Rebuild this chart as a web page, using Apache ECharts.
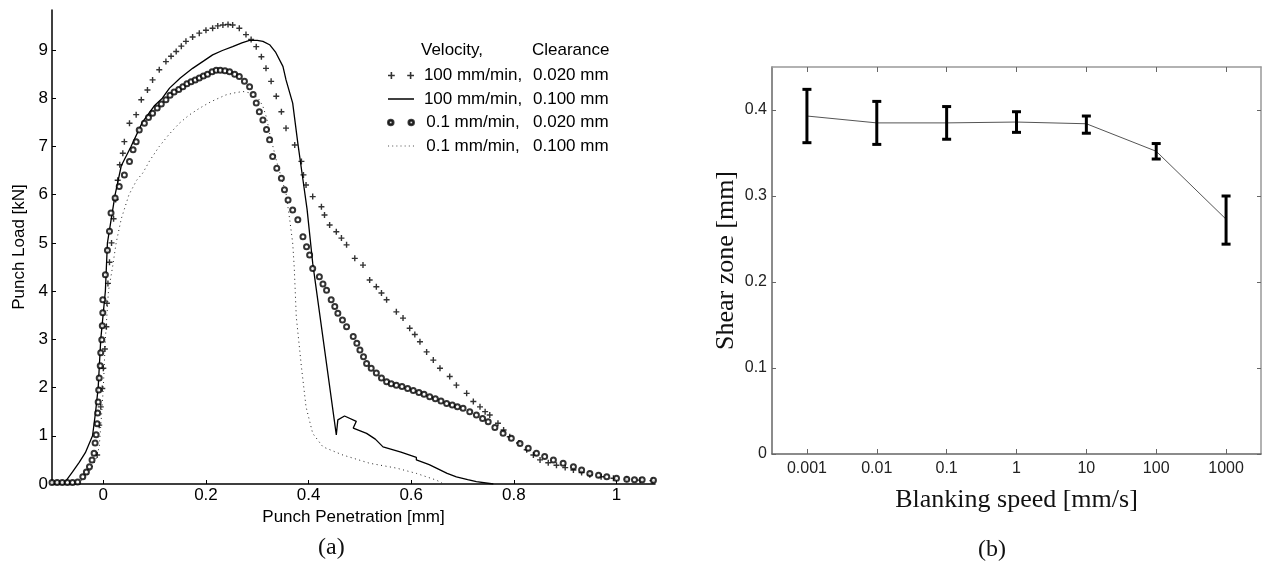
<!DOCTYPE html>
<html>
<head>
<meta charset="utf-8">
<script src="https://cdn.jsdelivr.net/npm/echarts@6/dist/echarts.min.js"></script>
<style>html,body{margin:0;padding:0;background:#fff}#c{width:1262px;height:572px}</style>
</head>
<body>
<div id="c"></div>
<script>
// ---------- Panel (a): punch load vs penetration ----------
const seriesNames = ['100 mm/min, 0.020 mm', '100 mm/min, 0.100 mm', '0.1 mm/min, 0.020 mm', '0.1 mm/min, 0.100 mm'];
const xTicksA = [0, 0.2, 0.4, 0.6, 0.8, 1];
const yTicksA = [0, 1, 2, 3, 4, 5, 6, 7, 8, 9];

// "+" markers : 100 mm/min, 0.020 mm
const plus100_020 = [[-0.012,0.6],[-0.008,1.22],[-0.005,1.6],[-0.002,1.98],[0.0,2.4],[0.003,2.8],[0.006,3.26],[0.007,3.75],[0.009,4.16],[0.012,4.6],[0.016,5.0],[0.02,5.5],[0.024,5.9],[0.028,6.3],[0.032,6.62],[0.038,6.86],[0.041,7.1],[0.051,7.48],[0.064,7.66],[0.074,7.97],[0.086,8.17],[0.096,8.38],[0.109,8.59],[0.122,8.76],[0.132,8.87],[0.142,8.97],[0.152,9.08],[0.161,9.18],[0.174,9.27],[0.187,9.35],[0.2,9.41],[0.213,9.45],[0.223,9.5],[0.233,9.52],[0.243,9.53],[0.252,9.52],[0.265,9.45],[0.278,9.32],[0.288,9.22],[0.298,9.07],[0.308,8.86],[0.317,8.62],[0.327,8.35],[0.337,8.04],[0.347,7.72],[0.356,7.38],[0.373,7.03],[0.386,6.69],[0.39,6.41],[0.395,6.2],[0.408,5.96],[0.425,5.75],[0.431,5.58],[0.441,5.37],[0.454,5.23],[0.464,5.1],[0.474,4.96],[0.49,4.68],[0.506,4.54],[0.519,4.23],[0.532,4.09],[0.542,3.96],[0.552,3.82],[0.571,3.57],[0.584,3.44],[0.597,3.23],[0.607,3.1],[0.617,2.95],[0.63,2.74],[0.643,2.57],[0.656,2.4],[0.675,2.23],[0.688,2.05],[0.708,1.88],[0.721,1.71],[0.734,1.6],[0.744,1.5],[0.753,1.43],[0.769,1.26],[0.78,1.12],[0.792,0.98],[0.81,0.85],[0.825,0.71],[0.838,0.6],[0.851,0.5],[0.867,0.44],[0.883,0.39],[0.9,0.34],[0.916,0.29],[0.932,0.24],[0.948,0.19],[0.97,0.15],[0.994,0.12],[1.02,0.1],[1.046,0.08],[1.07,0.07]];

// solid line : 100 mm/min, 0.100 mm
const line100_100 = [[-0.1,0.02],[-0.076,0.02],[-0.06,0.25],[-0.047,0.45],[-0.035,0.65],[-0.027,0.85],[-0.021,1.0],[-0.015,1.5],[-0.01,2.0],[-0.005,3.0],[0.004,4.0],[0.008,5.0],[0.023,6.0],[0.035,6.6],[0.054,7.0],[0.076,7.5],[0.1,7.85],[0.115,8.0],[0.129,8.21],[0.15,8.42],[0.174,8.62],[0.195,8.77],[0.213,8.9],[0.232,8.99],[0.252,9.07],[0.27,9.15],[0.285,9.2],[0.3,9.2],[0.311,9.18],[0.324,9.11],[0.336,8.95],[0.35,8.66],[0.356,8.38],[0.369,7.9],[0.379,7.07],[0.389,6.31],[0.397,5.7],[0.408,4.58],[0.454,1.02],[0.457,1.33],[0.47,1.41],[0.493,1.3],[0.487,1.16],[0.513,1.05],[0.53,0.93],[0.545,0.77],[0.58,0.66],[0.61,0.55],[0.61,0.5],[0.635,0.4],[0.649,0.33],[0.67,0.22],[0.688,0.15],[0.71,0.09],[0.727,0.05],[0.76,0.0]];

// circles : 0.1 mm/min, 0.020 mm
const circ01_020 = [[-0.1,0.03],[-0.09,0.03],[-0.08,0.03],[-0.07,0.03],[-0.06,0.03],[-0.05,0.04],[-0.04,0.15],[-0.033,0.25],[-0.027,0.36],[-0.022,0.5],[-0.018,0.64],[-0.016,0.85],[-0.014,1.02],[-0.012,1.25],[-0.011,1.47],[-0.01,1.7],[-0.009,1.95],[-0.008,2.2],[-0.006,2.45],[-0.005,2.72],[-0.003,2.99],[-0.002,3.28],[-0.001,3.55],[-0.001,3.82],[0.004,4.34],[0.008,4.85],[0.012,5.24],[0.015,5.62],[0.023,5.93],[0.031,6.17],[0.041,6.41],[0.051,6.69],[0.058,6.93],[0.064,7.1],[0.07,7.34],[0.08,7.48],[0.088,7.6],[0.096,7.69],[0.105,7.8],[0.113,7.88],[0.122,7.97],[0.13,8.06],[0.138,8.13],[0.147,8.18],[0.155,8.24],[0.163,8.3],[0.171,8.34],[0.179,8.38],[0.187,8.42],[0.195,8.46],[0.203,8.5],[0.212,8.55],[0.22,8.58],[0.228,8.58],[0.237,8.57],[0.246,8.55],[0.256,8.5],[0.265,8.45],[0.275,8.35],[0.285,8.24],[0.292,8.08],[0.298,7.9],[0.304,7.72],[0.311,7.55],[0.318,7.35],[0.324,7.14],[0.33,6.79],[0.338,6.55],[0.347,6.34],[0.353,6.1],[0.36,5.89],[0.369,5.68],[0.379,5.48],[0.389,5.13],[0.396,4.92],[0.402,4.75],[0.408,4.47],[0.421,4.3],[0.428,4.15],[0.435,4.02],[0.444,3.82],[0.451,3.68],[0.457,3.54],[0.466,3.4],[0.474,3.26],[0.487,3.06],[0.494,2.92],[0.5,2.78],[0.507,2.64],[0.513,2.5],[0.522,2.4],[0.532,2.3],[0.542,2.2],[0.552,2.12],[0.561,2.08],[0.571,2.05],[0.582,2.02],[0.593,1.98],[0.604,1.94],[0.615,1.9],[0.625,1.86],[0.636,1.81],[0.647,1.77],[0.658,1.72],[0.669,1.67],[0.68,1.64],[0.69,1.6],[0.701,1.57],[0.714,1.5],[0.727,1.43],[0.739,1.36],[0.75,1.29],[0.763,1.17],[0.779,1.05],[0.795,0.95],[0.812,0.84],[0.828,0.74],[0.844,0.64],[0.86,0.57],[0.877,0.5],[0.896,0.43],[0.916,0.36],[0.932,0.29],[0.948,0.22],[0.965,0.18],[0.981,0.15],[1.0,0.12],[1.02,0.1],[1.035,0.09],[1.05,0.09],[1.072,0.08]];

// dotted line : 0.1 mm/min, 0.100 mm
const dot01_100 = [[-0.05,0.0],[-0.03,0.2],[-0.015,0.5],[-0.008,0.77],[-0.003,1.5],[0.0,2.0],[0.004,3.0],[0.01,4.0],[0.018,4.5],[0.025,5.0],[0.035,5.5],[0.05,6.0],[0.065,6.3],[0.077,6.45],[0.09,6.7],[0.109,7.0],[0.128,7.25],[0.148,7.48],[0.167,7.65],[0.187,7.79],[0.21,7.93],[0.239,8.07],[0.255,8.11],[0.272,8.14],[0.291,8.1],[0.302,8.0],[0.311,7.83],[0.318,7.6],[0.324,7.28],[0.337,6.72],[0.347,6.35],[0.356,6.03],[0.363,5.5],[0.369,5.0],[0.372,4.5],[0.376,3.47],[0.386,2.43],[0.395,1.6],[0.408,1.05],[0.428,0.77],[0.467,0.6],[0.519,0.43],[0.571,0.33],[0.61,0.22],[0.649,0.08],[0.66,0.02]];

// ---------- Panel (b): shear zone vs blanking speed ----------
const speeds = ['0.001', '0.01', '0.1', '1', '10', '100', '1000'];
const shearMean = [0.393, 0.385, 0.385, 0.386, 0.384, 0.352, 0.273];
const shearLow  = [0.362, 0.360, 0.366, 0.374, 0.373, 0.343, 0.244];
const shearHigh = [0.424, 0.410, 0.404, 0.398, 0.393, 0.361, 0.300];
const yTicksB = [0, 0.1, 0.2, 0.3, 0.4];

const SANS = '"Liberation Sans", Arial, sans-serif';
const SERIF = '"Liberation Serif", "Times New Roman", serif';

const plusPath = 'M-0.7,-3H0.7V-0.7H3V0.7H0.7V3H-0.7V0.7H-3V-0.7H-0.7Z';
const plusIcon = 'path://M2.3,-3H3.7V-0.7H6V0.7H3.7V3H2.3V0.7H0V-0.7H2.3Z M19.3,-3H20.7V-0.7H23V0.7H20.7V3H19.3V0.7H17V-0.7H19.3Z';
const ringIcon = 'path://M1,0A2.3,2.3 0 1 0 5.6,0A2.3,2.3 0 1 0 1,0Z M1.9,0A1.4,1.4 0 1 1 4.7,0A1.4,1.4 0 1 1 1.9,0Z M18,0A2.3,2.3 0 1 0 22.6,0A2.3,2.3 0 1 0 18,0Z M18.9,0A1.4,1.4 0 1 1 21.7,0A1.4,1.4 0 1 1 18.9,0Z';
const solidIcon = 'path://M0,-0.75H26V0.75H0Z';
const dotIcon = 'path://M0,-0.5h1v1h-1Z M4,-0.5h1v1h-1Z M8,-0.5h1v1h-1Z M12,-0.5h1v1h-1Z M16,-0.5h1v1h-1Z M20,-0.5h1v1h-1Z M24,-0.5h1v1h-1Z';

const chart = echarts.init(document.getElementById('c'), null, {renderer: 'canvas'});

const thinAxis = (color, w) => ({ show: true, onZero: false, lineStyle: { color: color, width: w } });

chart.setOption({
  animation: false,
  backgroundColor: '#fff',
  title: {
    left: 416, top: 37,
    text: '{a|Velocity,}{b|Clearance}',
    textStyle: {
      fontSize: 17, fontFamily: SANS, fontWeight: 'normal', color: '#000',
      rich: { a: { width: 111, fontSize: 17, fontFamily: SANS, color: '#000' }, b: { fontSize: 17, fontFamily: SANS, color: '#000' } }
    }
  },
  legend: {
    left: 382, top: 62, orient: 'vertical', itemWidth: 26, itemHeight: 7, itemGap: 6.5,
    selectedMode: false,
    data: [
      { name: seriesNames[0], icon: plusIcon },
      { name: seriesNames[1], icon: solidIcon, itemStyle: { color: '#000' } },
      { name: seriesNames[2], icon: ringIcon },
      { name: seriesNames[3], icon: dotIcon, itemStyle: { color: '#555' } }
    ],
    formatter: function (name) {
      const p = name.split(', ');
      return '{a|' + p[0] + ',}{b|' + p[1] + '}';
    },
    textStyle: {
      fontSize: 17, fontFamily: SANS, color: '#000',
      rich: {
        a: { width: 108, align: 'right', fontSize: 17, fontFamily: SANS, color: '#000', lineHeight: 18 },
        b: { padding: [0, 0, 0, 6], fontSize: 17, fontFamily: SANS, color: '#000', lineHeight: 18 }
      }
    }
  },
  grid: [
    { left: 52, top: 10, width: 603, height: 474 },
    { left: 772, top: 67, right: 1, bottom: 118 }
  ],
  xAxis: [
    {
      gridIndex: 0, type: 'value', min: -0.1, max: 1.075,
      name: 'Punch Penetration [mm]', nameLocation: 'middle', nameGap: 22,
      nameTextStyle: { fontSize: 17, fontFamily: SANS, color: '#000' },
      axisLine: thinAxis('#000', 1.5),
      axisTick: { show: true, inside: true, length: 4, customValues: xTicksA, lineStyle: { color: '#000', width: 1 } },
      axisLabel: { customValues: xTicksA, fontSize: 17, fontFamily: SANS, color: '#000', margin: 3,
        formatter: v => String(Math.round(v * 10) / 10) },
      splitLine: { show: false }
    },
    {
      gridIndex: 1, type: 'category', data: speeds, boundaryGap: true, position: 'bottom',
      name: 'Blanking speed [mm/s]', nameLocation: 'middle', nameGap: 33,
      nameTextStyle: { fontSize: 26, fontFamily: SERIF, color: '#111' },
      axisLine: thinAxis('#666', 1.5),
      axisTick: { show: true, inside: true, alignWithLabel: true, length: 5, lineStyle: { color: '#666' } },
      axisLabel: { fontSize: 16, fontFamily: SANS, color: '#222', margin: 7 },
      splitLine: { show: false }
    },
    {
      gridIndex: 1, type: 'category', data: speeds, boundaryGap: true, position: 'top',
      axisLine: thinAxis('#999', 1.5),
      axisTick: { show: true, inside: true, alignWithLabel: true, length: 5, lineStyle: { color: '#666' } },
      axisLabel: { show: false },
      splitLine: { show: false }
    }
  ],
  yAxis: [
    {
      gridIndex: 0, type: 'value', min: 0, max: 9.83,
      name: 'Punch Load [kN]', nameLocation: 'middle', nameGap: 24,
      nameTextStyle: { fontSize: 17, fontFamily: SANS, color: '#000' },
      axisLine: thinAxis('#000', 1.5),
      axisTick: { show: true, inside: true, length: 4, customValues: yTicksA, lineStyle: { color: '#000' } },
      axisLabel: { customValues: yTicksA, fontSize: 17, fontFamily: SANS, color: '#000', margin: 4 },
      splitLine: { show: false }
    },
    {
      gridIndex: 1, type: 'value', min: 0, max: 0.45, position: 'left',
      name: 'Shear zone [mm]', nameLocation: 'middle', nameGap: 33,
      nameTextStyle: { fontSize: 26, fontFamily: SERIF, color: '#111' },
      axisLine: thinAxis('#666', 1.5),
      axisTick: { show: true, inside: true, length: 4, customValues: yTicksB, lineStyle: { color: '#666' } },
      axisLabel: { customValues: yTicksB, fontSize: 16, fontFamily: SANS, color: '#222', margin: 5,
        formatter: v => String(Math.round(v * 10) / 10) },
      splitLine: { show: false }
    },
    {
      gridIndex: 1, type: 'value', min: 0, max: 0.45, position: 'right',
      axisLine: thinAxis('#999', 1.5),
      axisTick: { show: true, inside: true, length: 4, customValues: yTicksB, lineStyle: { color: '#666' } },
      axisLabel: { show: false },
      splitLine: { show: false }
    }
  ],
  graphic: [
    { type: 'text', left: 318, top: 536, style: { text: '(a)', font: '24px ' + SERIF, fill: '#111' } },
    { type: 'text', left: 978, top: 538, style: { text: '(b)', font: '24px ' + SERIF, fill: '#111' } }
  ],
  series: [
    {
      name: seriesNames[0], type: 'scatter', xAxisIndex: 0, yAxisIndex: 0,
      data: plus100_020, symbol: 'path://' + plusPath, symbolSize: 6,
      itemStyle: { color: '#000' }, z: 3
    },
    {
      name: seriesNames[1], type: 'line', xAxisIndex: 0, yAxisIndex: 0,
      data: line100_100, showSymbol: false, symbol: 'none',
      lineStyle: { color: '#000', width: 1.3 }, itemStyle: { color: '#000' }, z: 2
    },
    {
      name: seriesNames[2], type: 'scatter', xAxisIndex: 0, yAxisIndex: 0,
      data: circ01_020, symbol: 'emptyCircle', symbolSize: 5,
      itemStyle: { color: '#000', borderColor: '#111', borderWidth: 0.9 }, z: 3
    },
    {
      name: seriesNames[3], type: 'line', xAxisIndex: 0, yAxisIndex: 0,
      data: dot01_100, showSymbol: false, symbol: 'none',
      lineStyle: { color: '#222', width: 1, type: [1, 3.5] }, itemStyle: { color: '#000' }, z: 2
    },
    {
      name: 'mean', type: 'line', xAxisIndex: 1, yAxisIndex: 1,
      data: shearMean, showSymbol: false, symbol: 'none',
      lineStyle: { color: '#555', width: 1 }, z: 2
    },
    {
      name: 'range', type: 'custom', xAxisIndex: 1, yAxisIndex: 1, z: 3,
      data: speeds.map((s, i) => [i, shearLow[i], shearHigh[i]]),
      renderItem: function (params, api) {
        const i = api.value(0);
        const lo = api.coord([i, api.value(1)]);
        const hi = api.coord([i, api.value(2)]);
        const hw = 4.5;
        const st = { stroke: '#000', lineWidth: 3 };
        return {
          type: 'group',
          children: [
            { type: 'line', shape: { x1: lo[0], y1: lo[1], x2: hi[0], y2: hi[1] }, style: st },
            { type: 'line', shape: { x1: lo[0] - hw, y1: lo[1], x2: lo[0] + hw, y2: lo[1] }, style: st },
            { type: 'line', shape: { x1: hi[0] - hw, y1: hi[1], x2: hi[0] + hw, y2: hi[1] }, style: st }
          ]
        };
      }
    }
  ]
});
</script>
</body>
</html>
